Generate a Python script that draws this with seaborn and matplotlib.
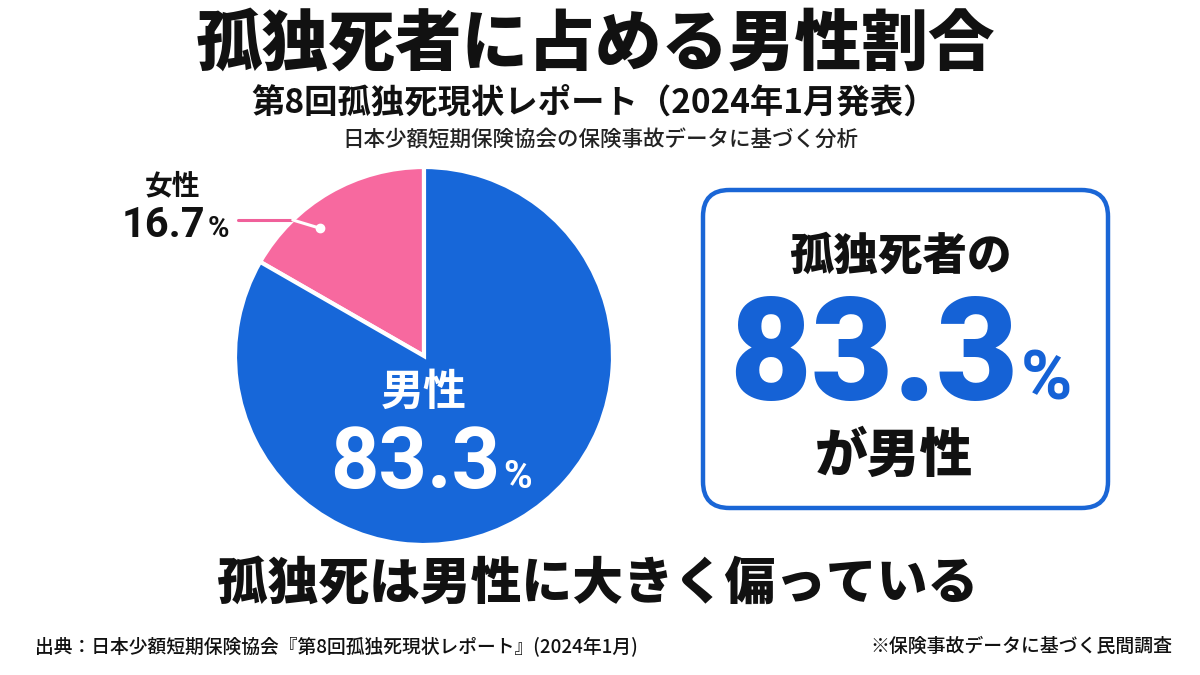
import numpy as np
import matplotlib
matplotlib.use("Agg")
import matplotlib.pyplot as plt
from matplotlib.patches import FancyBboxPatch
import seaborn as sns

# ---- data ----
categories = ["女性", "男性"]
shares = [16.7, 83.3]
colors = ["#f7699f", "#1767d9"]

title = "孤独死者に占める男性割合"
subtitle = "第8回孤独死現状レポート（2024年1月発表）"
subsub = "日本少額短期保険協会の保険事故データに基づく分析"
conclusion = "孤独死は男性に大きく偏っている"
source = "出典：日本少額短期保険協会『第8回孤独死現状レポート』(2024年1月)"
note = "※保険事故データに基づく民間調査"

sns.set_theme(style="white")
FONT = ["Noto Sans CJK JP", "DejaVu Sans"]
NUMFONT = "Roboto"
plt.rcParams["font.family"] = FONT

W, H = 1200, 675
fig = plt.figure(figsize=(12, 6.75), dpi=100)
fig.patch.set_facecolor("white")

def fx(x):
    return x / W

def fy(y):
    return 1 - y / H

def txt(x, y, s, size, color="#111111", weight="bold", ha="center", va="center",
        family=FONT, **kw):
    fig.text(fx(x), fy(y), s, fontsize=size, color=color, fontweight=weight,
             ha=ha, va=va, family=family, **kw)

# ---- titles ----
txt(595, 45, title, 48, weight="black")
txt(594, 103, subtitle, 24, weight="bold")
txt(600, 141, subsub, 15.5, weight="medium", color="#222222")

# ---- pie ----
cx, cy, r = 424, 356, 189
ax = fig.add_axes([fx(cx - r), fy(cy + r), 2 * r / W, 2 * r / H])
wedges, _ = ax.pie(shares, labels=None, colors=colors, startangle=90,
                   counterclock=True,
                   wedgeprops=dict(edgecolor="white", linewidth=3))
ax.set_xlim(-1, 1)
ax.set_ylim(-1, 1)
ax.set_aspect("auto")
ax.axis("off")

# leader for female share
w = wedges[0]
theta = np.deg2rad(w.theta1 + 0.65 * (w.theta2 - w.theta1))
px_dot = cx + 0.87 * r * np.cos(theta)
py_dot = cy - 0.87 * r * np.sin(theta)
ly = 220
edge_x = cx - np.sqrt(r ** 2 - (cy - ly) ** 2)
fig.add_artist(plt.Line2D([fx(238), fx(edge_x)], [fy(ly), fy(ly)],
                          transform=fig.transFigure, color="#f0609a", lw=2.2))
fig.add_artist(plt.Line2D([fx(edge_x), fx(px_dot)], [fy(ly), fy(py_dot)],
                          transform=fig.transFigure, color="white", lw=2.2))
fig.add_artist(plt.Line2D([fx(px_dot)], [fy(py_dot)], transform=fig.transFigure,
                          marker="o", ms=6, color="white", lw=0))

female = f"{shares[0]:.1f}"
male = f"{shares[1]:.1f}"
txt(172, 186, categories[0], 20)
txt(205, 237, female, 30, ha="right", va="baseline", family=NUMFONT)
txt(208, 237, "%", 21, ha="left", va="baseline", family=NUMFONT)

txt(424, 392, categories[1], 31, color="white")
txt(500, 488, male, 61, color="white", ha="right", va="baseline", family=NUMFONT)
txt(503, 488, "%", 28, color="white", ha="left", va="baseline", family=NUMFONT)

# ---- highlight box ----
box = FancyBboxPatch((fx(703), fy(508)), fx(1108) - fx(703), fy(190) - fy(508),
                     boxstyle="round,pad=0,rounding_size=0.022",
                     transform=fig.transFigure, fill=False,
                     edgecolor="#1a66d6", linewidth=3.2,
                     mutation_aspect=W / H)
fig.add_artist(box)
txt(900, 256, "孤独死者の", 32, weight="black")
txt(1018, 400, male, 102, color="#1562d6", ha="right", va="baseline",
    family=NUMFONT, weight="black")
txt(1021, 400, "%", 50, color="#1562d6", ha="left", va="baseline",
    family=NUMFONT, weight="bold")
txt(894, 456, "が男性", 38, weight="black")

# ---- conclusion and footer ----
txt(598, 583, conclusion, 36.5, weight="black")
txt(35, 646, source, 13.5, ha="left", weight="medium")
txt(1172, 646, note, 13.6, ha="right", weight="medium")

fig.savefig("out.png", dpi=100, facecolor="white")
